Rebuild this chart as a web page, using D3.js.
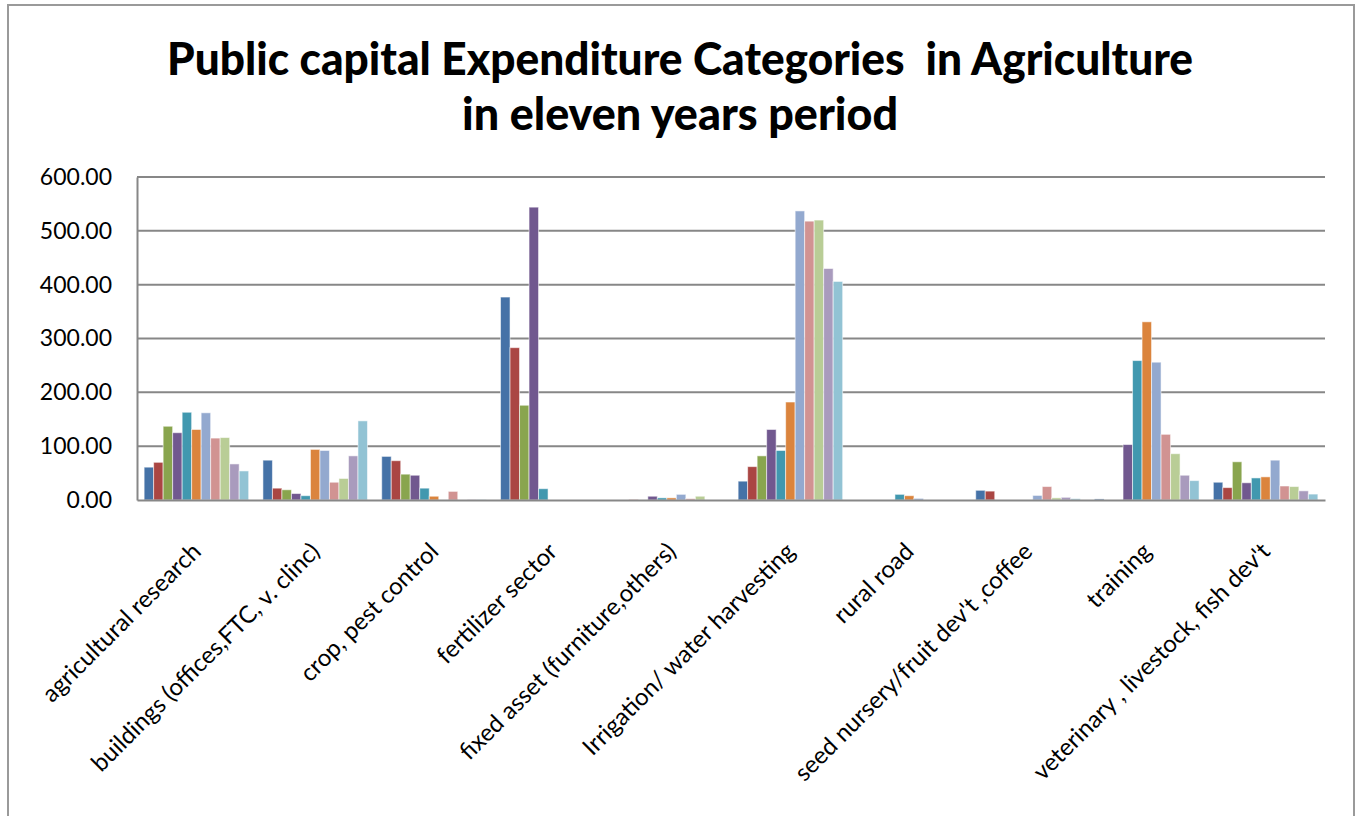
<!DOCTYPE html>
<html>
<head>
<meta charset="utf-8">
<script src="https://cdn.jsdelivr.net/npm/d3@7"></script>
<style>
  html, body { margin: 0; padding: 0; background: #fff; }
  svg { display: block; }
  text { white-space: pre; }
</style>
</head>
<body>
<svg id="chart" width="1361" height="816"></svg>
<script>
// Expenditure categories on the x axis
const categories = [
  "agricultural research",
  "buildings (offices,FTC, v. clinc)",
  "crop, pest control",
  "fertilizer sector",
  "fixed asset (furniture,others)",
  "Irrigation/ water harvesting",
  "rural road",
  "seed nursery/fruit dev't ,coffee",
  "training",
  "veterinary , livestock, fish dev't"
];

// One series per year of the eleven-year period
const years = ["Y1", "Y2", "Y3", "Y4", "Y5", "Y6", "Y7", "Y8", "Y9", "Y10", "Y11"];

// Values per category, one entry per year
const agriculturalResearch = [61, 70, 137, 125, 163, 131, 162, 115, 116, 67, 54];
const buildings            = [74, 22, 19, 12, 8, 94, 92, 33, 40, 82, 147];
const cropPestControl      = [81, 73, 48, 46, 22, 7, 0, 16, 0, 0.5, 0.5];
const fertilizerSector     = [377, 283, 176, 544, 21, 0, 0, 0, 0, 0, 0];
const fixedAsset           = [0, 0.5, 0, 7, 4, 4, 10.5, 2.5, 7, 0, 0];
const irrigation           = [35, 62, 82, 131, 92, 182, 537, 518, 520, 430, 406];
const ruralRoad            = [0, 0, 0, 0, 10.5, 8, 3, 0, 0, 0, 0];
const seedNursery          = [18, 16.5, 0, 0, 0, 0, 8.5, 25, 4, 5, 2.5];
const training             = [2, 0, 0, 103, 259, 331, 256, 122, 86, 46, 36];
const veterinary           = [33, 23, 71, 32, 41, 43, 74, 26, 25, 17, 11];

const valuesByCategory = [
  agriculturalResearch, buildings, cropPestControl, fertilizerSector, fixedAsset,
  irrigation, ruralRoad, seedNursery, training, veterinary
];

// Y axis tick values
const yTicks = [0, 100, 200, 300, 400, 500, 600];

const colors = [
  "#4572a7", "#aa4643", "#89a54e", "#71588f", "#4198af", "#db843d",
  "#93a9cf", "#d19392", "#b9cd96", "#a99bbd", "#92c3d4"
];

const svg = d3.select("#chart");
const font = "Lato, 'Open Sans', 'DejaVu Sans', sans-serif";

// Outer chart frame
svg.append("rect")
  .attr("x", 8).attr("y", 5).attr("width", 1346).attr("height", 830)
  .attr("fill", "#fff").attr("stroke", "#9a9a9a").attr("stroke-width", 2);

// Title
const title = svg.append("g")
  .attr("font-family", font).attr("font-weight", 900)
  .attr("font-size", 45).attr("fill", "#000").attr("text-anchor", "middle");
title.append("text").attr("x", 680).attr("y", 75)
  .attr("textLength", 1026).attr("lengthAdjust", "spacingAndGlyphs")
  .text("Public capital Expenditure Categories  in Agriculture");
title.append("text").attr("x", 680).attr("y", 130)
  .attr("textLength", 436).attr("lengthAdjust", "spacingAndGlyphs")
  .text("in eleven years period");

// Plot area
const plot = { left: 137, right: 1325, top: 177, bottom: 500 };

const x0 = d3.scaleBand().domain(categories).range([plot.left, plot.right]).padding(0);
const x1 = d3.scaleBand().domain(years).range([0, x0.bandwidth()])
  .paddingInner(0).paddingOuter(0.75);
const y = d3.scaleLinear().domain([0, 600]).range([plot.bottom, plot.top]);

// Horizontal gridlines
svg.append("g").selectAll("line")
  .data(yTicks.filter(d => d > 0))
  .join("line")
  .attr("x1", plot.left).attr("x2", plot.right)
  .attr("y1", d => y(d)).attr("y2", d => y(d))
  .attr("stroke", "#878787").attr("stroke-width", 2);

// Bars
const groups = svg.append("g").selectAll("g")
  .data(categories.map((c, i) => ({ c, vals: valuesByCategory[i] })))
  .join("g")
  .attr("transform", d => `translate(${x0(d.c)},0)`);

groups.selectAll("rect")
  .data(d => d.vals.map((v, j) => ({ v, yr: years[j], j })))
  .join("rect")
  .filter(d => d.v > 0)
  .attr("x", d => x1(d.yr))
  .attr("width", x1.bandwidth())
  .attr("y", d => y(d.v))
  .attr("height", d => y(0) - y(d.v))
  .attr("fill", d => colors[d.j])
  .attr("stroke", "#ffffff").attr("stroke-opacity", 0.55).attr("stroke-width", 1);

// Axis lines
const yAxis = svg.append("g")
  .attr("transform", `translate(${plot.left},0)`)
  .call(d3.axisLeft(y).tickValues(yTicks).tickFormat(d3.format(".2f")).tickSize(0).tickPadding(25));
yAxis.select(".domain").attr("stroke", "#878787").attr("stroke-width", 2);
yAxis.selectAll("text").attr("font-family", font).attr("font-size", 23).attr("fill", "#000");

const xAxis = svg.append("g")
  .attr("transform", `translate(0,${plot.bottom})`)
  .call(d3.axisBottom(x0).tickSize(0).tickFormat(""));
xAxis.select(".domain").attr("stroke", "#878787").attr("stroke-width", 2);

// Rotated category labels
svg.append("g").selectAll("text")
  .data(categories)
  .join("text")
  .attr("transform", d => `translate(${x0(d) + x0.bandwidth() / 2 + 6},${plot.bottom + 53}) rotate(-45)`)
  .attr("text-anchor", "end")
  .attr("font-family", font).attr("font-size", 24).attr("fill", "#000")
  .text(d => d);
</script>
</body>
</html>
